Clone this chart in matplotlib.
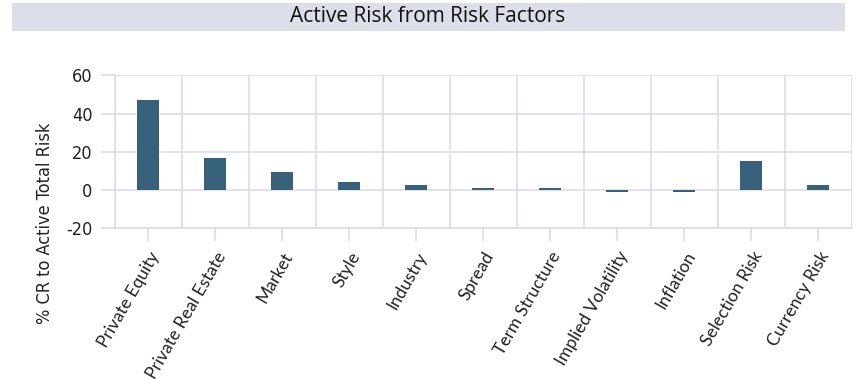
import numpy as np
import matplotlib.pyplot as plt
from matplotlib.patches import Rectangle

categories = ["Private Equity", "Private Real Estate", "Market", "Style", "Industry",
              "Spread", "Term Structure", "Implied Volatility", "Inflation",
              "Selection Risk", "Currency Risk"]
values = [47.2, 16.7, 9.4, 4.4, 2.8, 1.1, 1.1, -1.1, -1.1, 15.2, 2.6]
yticks = [-20, 0, 20, 40, 60]

grid_c = "#dcdde9"
bar_c = "#37617a"
plt.rcParams['font.family'] = ['Liberation Sans Narrow', 'DejaVu Sans']
plt.rcParams['font.stretch'] = 'condensed'

fig = plt.figure(figsize=(8.57, 3.79), dpi=100)
ax = fig.add_axes([0.134, 0.398, 0.860, 0.403])

x = np.arange(len(categories))
ax.bar(x, values, width=0.33, color=bar_c, zorder=3)
ax.set_xlim(-0.5, len(categories) - 0.5)
ax.set_ylim(-20, 60)
ax.set_yticks(yticks)
ax.set_yticklabels([str(v) for v in yticks], fontsize=13, color="#222222")
ax.set_xticks(x)
ax.set_xticklabels(categories, rotation=60, ha="right", rotation_mode="anchor",
                   fontsize=12.5, color="#222222", family=["Lato", "DejaVu Sans"])
ax.set_xticks(np.arange(len(categories) + 1) - 0.5, minor=True)
ax.grid(axis="y", color=grid_c, linewidth=1.2, zorder=0)
ax.grid(axis="x", which="minor", color=grid_c, linewidth=1.2, zorder=0)
ax.tick_params(axis="x", which="major", length=9, color=grid_c, width=1.2, pad=6)
ax.tick_params(axis="x", which="minor", length=0)
ax.tick_params(axis="y", length=10, color=grid_c, width=1.2, pad=6)
for s in ["top", "right"]:
    ax.spines[s].set_visible(False)
for s in ["left", "bottom"]:
    ax.spines[s].set_color(grid_c)
    ax.spines[s].set_linewidth(1.2)
ax.set_ylabel("% CR to Active Total Risk", fontsize=13, color="#222222")
ax.yaxis.set_label_coords(-0.083, 0.03)

fig.patches.append(Rectangle((12 / 857, 1 - 31 / 379), 833 / 857, 28 / 379,
                             transform=fig.transFigure, facecolor="#dcdfe9",
                             edgecolor="none"))
fig.text(428 / 857, 1 - 17 / 379, "Active Risk from Risk Factors", ha="center",
         va="center", fontsize=15, family=["Open Sans", "DejaVu Sans"],
         stretch="normal", color="#111111")

plt.savefig("out.png", dpi=100)
